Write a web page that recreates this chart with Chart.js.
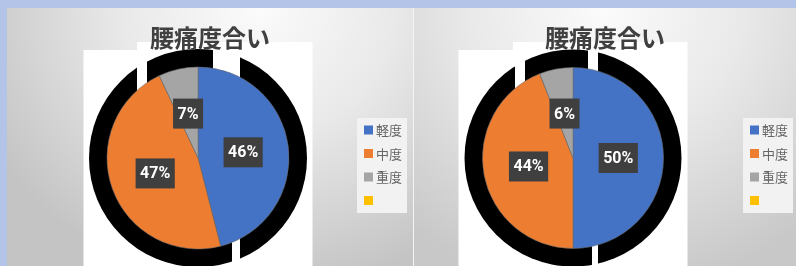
<!DOCTYPE html>
<html>
<head>
<meta charset="utf-8">
<script src="https://cdn.jsdelivr.net/npm/chart.js@4.4.0/dist/chart.umd.min.js"></script>
<style>
  html, body { margin: 0; padding: 0; }
  body { width: 796px; height: 266px; background: #b4c4e8; position: relative; overflow: hidden; }
  .panel { position: absolute; top: 8px; height: 258px; }
  #leftPanel {
    left: 7px; width: 406px;
    background: radial-gradient(ellipse 75% 110% at 62% 0%, #fbfbfb 0%, #e9e9e9 45%, #c4c4c4 100%);
  }
  #rightPanel {
    left: 413px; width: 383px;
    border-left: 1px solid #f4f4f4;
    background: radial-gradient(ellipse 80% 110% at 50% 0%, #fbfbfb 0%, #e9e9e9 45%, #c8c8c8 100%);
  }
  canvas { display: block; }
</style>
</head>
<body>
<div class="panel" id="leftPanel"><canvas id="painLeft" width="406" height="258"></canvas></div>
<div class="panel" id="rightPanel"><canvas id="painRight" width="382" height="258"></canvas></div>
<script>
const chartTitle = '腰痛度合い';
const categories = ['軽度', '中度', '重度', ''];
const painLeft = [46, 47, 7, 0];
const painRight = [50, 44, 6, 0];
const sliceColors = ['#4472c4', '#ed7d31', '#a5a5a5', '#ffc000'];

// white plot backdrop, the black "shadow" ring, labels, title and legend
const excelDecor = {
  id: 'excelDecor',
  beforeDatasetsDraw(chart, args, opts) {
    const { ctx } = chart;
    const arc = chart.getDatasetMeta(0).data[0];
    const cx = arc.x, cy = arc.y, r = arc.outerRadius;
    ctx.save();
    ctx.fillStyle = '#ffffff';
    ctx.fillRect(cx - 114.5, cy - 108, 229, chart.height);
    ctx.fillRect(cx - 60, cy - 116, 174.5, 9);

    ctx.fillStyle = '#000000';
    ctx.beginPath();
    ctx.arc(cx, cy, r + 18, 0, Math.PI * 2);
    ctx.fill();

    // gaps in the ring
    ctx.fillStyle = '#ffffff';
    opts.gaps.forEach(g => {
      ctx.fillRect(cx + g[0], cy + g[2], g[1] - g[0], g[3] - g[2]);
    });
    ctx.restore();
  },
  afterDatasetsDraw(chart) {
    const { ctx } = chart;
    const meta = chart.getDatasetMeta(0);
    const values = chart.data.datasets[0].data;
    const total = values.reduce((a, b) => a + b, 0);
    ctx.save();
    ctx.font = 'bold 16px Roboto, sans-serif';
    ctx.textAlign = 'center';
    ctx.textBaseline = 'middle';
    meta.data.forEach((el, i) => {
      if (!values[i]) return;
      const p = el.tooltipPosition();
      const txt = Math.round(values[i] / total * 100) + '%';
      const w = ctx.measureText(txt).width + 9;
      ctx.fillStyle = '#3f3f3f';
      ctx.fillRect(p.x - w / 2, p.y - 15, w, 30);
      ctx.fillStyle = '#ffffff';
      ctx.fillText(txt, p.x, p.y + 1);
    });
    ctx.restore();
  },
  afterDraw(chart, args, opts) {
    const { ctx } = chart;
    ctx.save();
    ctx.font = 'bold 24px "Noto Sans CJK JP", sans-serif';
    ctx.fillStyle = '#404040';
    ctx.textAlign = 'center';
    ctx.textBaseline = 'middle';
    ctx.fillText(chartTitle, chart.width / 2, 30);

    const lx = opts.legendX;
    ctx.fillStyle = '#f2f2f2';
    ctx.fillRect(lx, 110, 50, 95);
    ctx.font = '13px "Noto Sans CJK JP", sans-serif';
    ctx.textAlign = 'left';
    chart.data.labels.forEach((lab, i) => {
      const y = 117.5 + i * 23.5;
      ctx.fillStyle = chart.data.datasets[0].backgroundColor[i];
      ctx.fillRect(lx + 7, y, 9, 9);
      ctx.fillStyle = '#666666';
      ctx.fillText(lab, lx + 19, y + 5);
    });
    ctx.restore();
  }
};

function makePie(id, values, padding, radius, legendX, gaps) {
  return new Chart(document.getElementById(id), {
    type: 'pie',
    data: {
      labels: categories,
      datasets: [{
        data: values,
        backgroundColor: sliceColors,
        borderColor: 'rgba(110,110,110,0.7)',
        borderWidth: 0.8
      }]
    },
    options: {
      responsive: false,
      animation: false,
      radius: radius,
      layout: { padding: padding },
      plugins: {
        legend: { display: false },
        tooltip: { enabled: false },
        title: { display: false },
        excelDecor: { legendX: legendX, gaps: gaps }
      }
    },
    plugins: [excelDecor]
  });
}

makePie('painLeft', painLeft, { left: 91, right: 115, top: 50, bottom: 8 }, 91, 350,
  [[-61, -51, -116, 0], [15, 42, -116, 0], [34, 42, 0, 120]]);
makePie('painRight', painRight, { left: 59, right: 123, top: 50, bottom: 8 }, 90.5, 329,
  [[-58, -48, -116, 0], [15, 25, -116, 0], [19, 25, 0, 120]]);
</script>
</body>
</html>
